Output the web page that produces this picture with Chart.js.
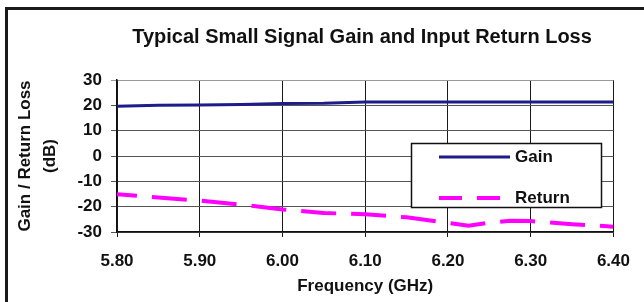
<!DOCTYPE html>
<html>
<head>
<meta charset="utf-8">
<script src="https://cdn.jsdelivr.net/npm/chart.js@4.4.0/dist/chart.umd.min.js"></script>
<style>
  html, body { margin: 0; padding: 0; background: #fff; }
  #wrap { width: 644px; height: 302px; position: relative; }
</style>
</head>
<body>
<div id="wrap"><canvas id="chart" width="644" height="302"></canvas></div>
<script>
// values
const chartTitle = 'Typical Small Signal Gain and Input Return Loss';
const seriesNames = ['Gain', 'Return'];
const gainFreq = [5.80, 5.85, 5.90, 5.95, 6.00, 6.05, 6.10, 6.15, 6.20, 6.25, 6.30, 6.35, 6.40];
const gainDb = [19.6, 20.0, 20.1, 20.3, 20.7, 20.8, 21.3, 21.3, 21.3, 21.3, 21.3, 21.3, 21.3];
const returnFreq = [5.80, 5.85, 5.90, 5.95, 6.00, 6.05, 6.10, 6.15, 6.20, 6.225, 6.25, 6.275, 6.30, 6.35, 6.40];
const returnDb = [-15.1, -16.4, -17.6, -19.2, -21.1, -22.5, -23.0, -24.2, -26.4, -27.5, -26.3, -25.6, -25.7, -26.9, -27.9];
const xTicks = [5.80, 5.90, 6.00, 6.10, 6.20, 6.30, 6.40];
const yTicks = [-30, -20, -10, 0, 10, 20, 30];

const FONT = 'Liberation Sans, Arial, sans-serif';

const toPoints = (xs, ys) => xs.map((x, i) => ({ x: x, y: ys[i] }));

// outer frame, title and the boxed legend inside the plot
const decorations = {
  id: 'decorations',
  afterDraw(chart) {
    const ctx = chart.ctx;
    ctx.save();

    // thick frame (only top and left edges visible)
    ctx.strokeStyle = '#1a1a1a';
    ctx.lineWidth = 3;
    ctx.beginPath();
    ctx.moveTo(650, 8.5);
    ctx.lineTo(6.5, 8.5);
    ctx.lineTo(6.5, 310);
    ctx.stroke();

    // title
    ctx.fillStyle = '#111';
    ctx.font = 'bold 20px ' + FONT;
    ctx.textAlign = 'center';
    ctx.textBaseline = 'middle';
    ctx.fillText(chartTitle, 362, 37);

    // legend box
    ctx.fillStyle = '#fff';
    ctx.fillRect(411.5, 143.5, 190, 64);
    ctx.strokeStyle = '#111';
    ctx.lineWidth = 1.5;
    ctx.strokeRect(411.5, 143.5, 190, 64);

    const rows = [157, 198];
    chart.data.datasets.forEach((ds, i) => {
      const y = rows[i];
      ctx.strokeStyle = ds.borderColor;
      ctx.lineWidth = ds.borderWidth;
      ctx.setLineDash(i === 1 ? [23, 15] : []);
      ctx.beginPath();
      ctx.moveTo(439, y);
      ctx.lineTo(i === 1 ? 501 : 510, y);
      ctx.stroke();
      ctx.setLineDash([]);
      ctx.fillStyle = '#111';
      ctx.font = 'bold 17px ' + FONT;
      ctx.textAlign = 'left';
      ctx.textBaseline = 'middle';
      ctx.fillText(ds.label, 515, y);
    });
    ctx.restore();
  }
};

new Chart(document.getElementById('chart'), {
  type: 'line',
  data: {
    datasets: [
      {
        label: seriesNames[0],
        data: toPoints(gainFreq, gainDb),
        borderColor: '#1c1c8a',
        borderWidth: 3,
        pointRadius: 0,
        tension: 0
      },
      {
        label: seriesNames[1],
        data: toPoints(returnFreq, returnDb),
        borderColor: '#ff00ff',
        borderWidth: 4,
        borderDash: [35, 15],
        borderDashOffset: 15,
        pointRadius: 0,
        tension: 0
      }
    ]
  },
  options: {
    responsive: false,
    animation: false,
    layout: { padding: { left: 7, right: 21, top: 80, bottom: 0 } },
    plugins: {
      legend: { display: false },
      title: { display: false },
      tooltip: { enabled: false }
    },
    scales: {
      x: {
        type: 'linear',
        min: xTicks[0],
        max: xTicks[xTicks.length - 1],
        afterBuildTicks: (scale) => { scale.ticks = xTicks.map(v => ({ value: v })); },
        afterFit: (scale) => { scale.height = 70; },
        grid: { color: '#1a1a1a', lineWidth: 1, tickLength: 5 },
        border: { color: '#111', width: 1.5 },
        ticks: {
          color: '#111',
          padding: 14,
          maxRotation: 0,
          font: { family: FONT, size: 17, weight: 'bold' },
          callback: (v) => Number(v).toFixed(2)
        },
        title: {
          display: true,
          text: 'Frequency (GHz)',
          color: '#111',
          padding: { top: 0, bottom: 5 },
          font: { family: FONT, size: 17, weight: 'bold' }
        }
      },
      y: {
        min: yTicks[0],
        max: yTicks[yTicks.length - 1],
        afterBuildTicks: (scale) => { scale.ticks = yTicks.map(v => ({ value: v })); },
        afterFit: (scale) => { scale.width = 110; },
        grid: {
          color: (c) => (c.tick && c.tick.value === 30 ? '#999' : '#555'),
          lineWidth: 1,
          tickLength: 6
        },
        border: { color: '#111', width: 1.5 },
        ticks: {
          color: '#111',
          padding: 9,
          font: { family: FONT, size: 17, weight: 'bold' }
        },
        title: {
          display: true,
          text: ['Gain / Return Loss', '(dB)'],
          color: '#111',
          padding: { top: 5.5, bottom: 0 },
          font: { family: FONT, size: 17, weight: 'bold', lineHeight: 1.47 }
        }
      }
    }
  },
  plugins: [decorations]
});
</script>
</body>
</html>
